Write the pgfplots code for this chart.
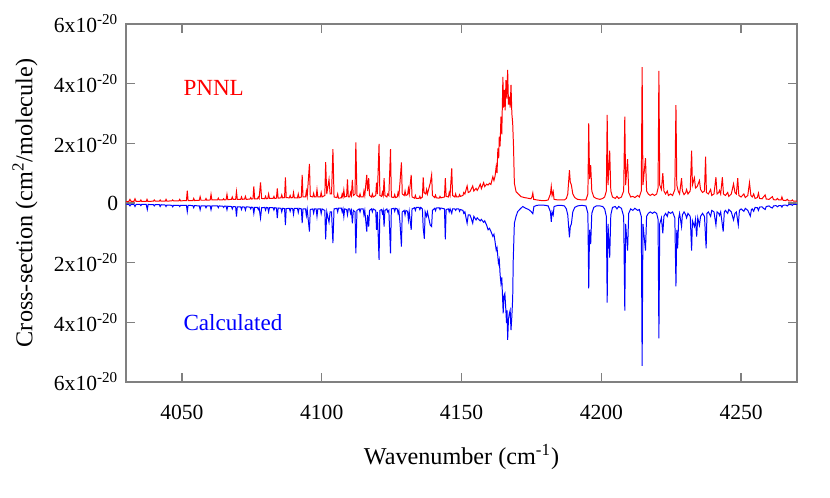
\documentclass[border=0pt]{standalone}
\usepackage{fontspec}
\setmainfont{Liberation Serif}
\usepackage{pgfplots}
\pgfplotsset{compat=1.18}

\begin{document}
\begin{tikzpicture}
\begin{axis}[
  scale only axis,
  width=305pt, height=162.7pt,
  xmin=4030, xmax=4270,
  ymin=-6, ymax=6,
  xtick={4050,4100,4150,4200,4250},
  ytick={-6,-4,-2,0,2,4,6},
  yticklabels={6x10\textsuperscript{-20},4x10\textsuperscript{-20},2x10\textsuperscript{-20},0,
               2x10\textsuperscript{-20},4x10\textsuperscript{-20},6x10\textsuperscript{-20}},
  /pgf/number format/assume math mode=true,
  /pgf/number format/set thousands separator={},
  tick align=inside,
  axis line style={draw=black!50, line width=0.6pt},
  major tick style={draw=black!50, line width=0.6pt},
  tick label style={font=\fontsize{9.8}{11}\selectfont},
  xticklabel style={yshift=-7pt},
  label style={font=\fontsize{11}{13}\selectfont},
  xlabel={Wavenumber (cm\textsuperscript{-1})},
  ylabel={Cross-section (cm\textsuperscript{2}/molecule)},
  xlabel style={at={(axis description cs:0.5,0)}, anchor=center, yshift=-34pt},
  ylabel style={at={(axis description cs:0,0.5)}, anchor=center, yshift=46pt},
]
% PNNL (measured)
\addplot[red, line width=0.45pt] coordinates {
(4030,0.04) (4031.0,0.05) (4031.4,0.12) (4031.8,0.05) (4032.8,0.05) (4033.2,0.14) (4033.6,0.05) (4035.0,0.05) (4035.3,0.1) (4035.6,0.05) (4037.2,0.05) (4037.5,0.12) (4037.8,0.05) (4039.8,0.06) (4040.1,0.1) (4040.4,0.06) (4041.9,0.06) (4042.2,0.1) (4042.5,0.06) (4044.0,0.06) (4044.3,0.12) (4044.6,0.06) (4046.4,0.07) (4046.7,0.1) (4047.0,0.07) (4048.9,0.07) (4049.2,0.12) (4049.5,0.07)
(4051.6,0.08) (4051.9,0.41) (4052.2,0.08) (4053.9,0.08) (4054.2,0.15) (4054.5,0.08) (4056.2,0.09) (4056.5,0.21) (4056.8,0.09) (4058.3,0.09) (4058.6,0.15) (4058.9,0.09) (4060.1,0.1) (4060.4,0.29) (4060.7,0.1) (4062.7,0.1) (4063.0,0.16) (4063.3,0.1) (4064.6,0.1) (4064.9,0.14) (4065.2,0.1) (4065.8,0.11) (4066.1,0.29) (4066.4,0.11) (4067.7,0.12) (4068.0,0.2) (4068.3,0.12) (4069.2,0.12) (4069.5,0.38) (4069.8,0.12) (4071.0,0.12) (4071.3,0.2) (4071.6,0.12) (4072.4,0.13) (4072.7,0.22) (4073.0,0.12) (4074.3,0.13) (4074.6,0.18) (4074.9,0.13) (4075.4,0.14) (4075.7,0.55) (4076.0,0.14) (4077.0,0.14) (4077.3,0.2) (4077.6,0.15) (4078.1,0.69) (4078.5,0.15) (4079.6,0.14) (4079.9,0.22) (4080.2,0.14) (4080.7,0.15) (4081.0,0.3) (4081.3,0.15) (4082.6,0.15) (4082.9,0.22) (4083.2,0.15) (4083.8,0.16) (4084.1,0.49) (4084.4,0.16) (4085.4,0.17) (4085.7,0.27) (4086.0,0.17) (4086.7,0.18) (4087.0,0.86) (4087.3,0.18) (4088.4,0.17) (4088.7,0.25) (4089.0,0.17) (4089.6,0.18) (4089.9,0.35) (4090.2,0.17)
(4091.3,0.17) (4091.6,0.3) (4091.9,0.17) (4092.7,0.2) (4093.0,0.94) (4093.3,0.2) (4094.2,0.2) (4094.5,0.4) (4094.8,0.22) (4095.6,1.31) (4095.9,0.22) (4096.8,0.2) (4097.1,0.32) (4097.4,0.2) (4098.0,0.2) (4098.3,0.45) (4098.6,0.2) (4099.5,0.2) (4099.8,0.35) (4100.1,0.2) (4101.1,0.25) (4101.4,1.37) (4101.8,0.3) (4102.6,0.79) (4103.0,0.3) (4103.5,0.3) (4104.0,1.8) (4104.4,0.2) (4105.4,0.18) (4105.7,0.3) (4106.0,0.16) (4107.0,0.17) (4107.3,0.3) (4107.6,0.2) (4107.9,0.43) (4108.2,0.2) (4108.9,0.22) (4109.2,0.79) (4109.5,0.2) (4110.0,0.2) (4110.3,0.35) (4110.6,0.25) (4110.95,0.77) (4111.3,0.25) (4111.9,0.3) (4112.2,2.03) (4112.6,0.25) (4113.4,0.2) (4113.7,0.3) (4114.0,0.2) (4114.8,0.2) (4115.1,0.4) (4115.4,0.25) (4116.1,0.94) (4116.4,0.4) (4116.8,0.83) (4117.1,0.25) (4117.8,0.2) (4118.1,0.3) (4118.4,0.2) (4119.3,0.25) (4119.6,0.68) (4119.9,0.3) (4120.5,1.98) (4120.8,0.25) (4121.4,0.22) (4121.7,0.35) (4122.0,0.25) (4122.3,0.83) (4122.6,0.25) (4123.3,0.2) (4123.6,0.3) (4124.0,0.25) (4124.6,1.8) (4124.9,0.2) (4125.8,0.18) (4126.1,0.28) (4126.4,0.18) (4127.0,0.2) (4127.3,0.35) (4127.6,0.25) (4128.0,0.7) (4128.5,1.36) (4128.8,0.3) (4129.5,0.25) (4129.8,0.4) (4130.1,0.25) (4130.7,0.28) (4131.0,0.49) (4131.3,0.3) (4132.0,0.94) (4132.3,0.2) (4133.2,0.16) (4133.5,0.25) (4133.8,0.15) (4134.8,0.15) (4135.1,0.22) (4135.4,0.15) (4136.0,0.2) (4136.3,0.86) (4136.6,0.35) (4137.2,0.3) (4137.5,0.45) (4137.8,0.3) (4138.8,0.66) (4139.3,0.94) (4139.6,0.25) (4140.4,0.18) (4140.7,0.26) (4141.0,0.17) (4142.0,0.16) (4142.3,0.22) (4142.6,0.17) (4143.9,0.2) (4144.2,0.83) (4144.5,0.22) (4145.3,0.2) (4145.6,0.35) (4145.9,0.25) (4146.5,1.16) (4146.8,0.25) (4147.6,0.2) (4147.9,0.3) (4148.2,0.2) (4149.0,0.2) (4149.3,0.28) (4149.6,0.22)
(4150.5,0.25) (4150.8,0.35) (4151.2,0.3) (4152.0,0.57) (4152.4,0.35) (4153.0,0.38) (4153.4,0.45) (4154.0,0.57) (4154.4,0.4) (4155.2,0.49) (4155.6,0.42) (4156.1,0.5) (4156.7,0.63) (4157.1,0.48) (4157.9,0.68) (4158.3,0.55) (4159.0,0.63) (4159.5,0.6) (4160.0,0.66) (4160.5,0.62) (4161.2,0.88) (4161.6,0.75) (4162.0,0.9) (4162.4,1.22) (4162.7,1.0) (4163.0,1.83) (4163.3,1.5) (4163.5,2.22) (4163.8,1.9) (4164.1,2.89) (4164.4,2.3) (4164.8,4.23) (4165.0,3.2) (4165.3,3.79) (4165.6,3.1) (4165.9,4.12) (4166.2,3.5) (4166.5,4.46) (4166.8,3.3) (4167.1,3.56) (4167.4,3.2) (4167.7,3.96) (4168.0,3.0) (4168.3,2.67) (4168.6,1.89) (4168.9,0.66) (4169.5,0.38) (4170.3,0.3) (4171.3,0.21) (4172.5,0.18) (4173.7,0.16) (4174.8,0.14) (4175.2,0.2) (4175.5,0.33) (4175.8,0.12) (4177.0,0.1) (4178.5,0.08) (4180.0,0.08) (4181.0,0.1) (4181.8,0.3) (4182.1,0.55) (4182.4,0.25) (4182.8,0.38) (4183.1,0.12) (4184.5,0.1) (4185.7,0.1) (4186.8,0.1) (4187.5,0.15) (4188.0,0.3) (4188.6,1.1) (4188.9,0.7) (4189.3,0.6) (4189.8,0.3) (4190.5,0.18) (4191.5,0.12) (4193.0,0.1) (4194.5,0.1)
(4195.2,0.3) (4195.5,2.67) (4195.8,0.8) (4196.2,1.27) (4196.6,0.4) (4197.3,0.2) (4198.2,0.15) (4199.5,0.12) (4200.5,0.15) (4201.2,0.2) (4201.8,0.4) (4202.1,2.95) (4202.4,0.6) (4203.0,1.75) (4203.4,0.4) (4204.0,0.2) (4205.0,0.15) (4205.6,0.22) (4206.2,0.15) (4207.2,0.2) (4208.0,0.4) (4208.4,2.89) (4208.7,0.6) (4209.4,1.47) (4209.8,0.35) (4210.5,0.2) (4211.3,0.22) (4212.0,0.18) (4213.0,0.25) (4213.6,0.2) (4214.3,0.4) (4214.6,4.55) (4214.9,0.6) (4215.8,1.5) (4216.2,0.4) (4216.8,0.3) (4217.5,0.25) (4218.3,0.3) (4219.0,0.25) (4219.8,0.3) (4220.3,0.5) (4220.6,4.43) (4220.9,0.6) (4221.5,0.45) (4222.0,1.0) (4222.4,0.4) (4223.0,0.3) (4223.6,0.4) (4224.0,0.25) (4224.8,0.3) (4225.5,0.25) (4226.3,0.45) (4226.7,3.28) (4227.0,0.6) (4227.5,0.4) (4228.0,0.3) (4228.7,0.83) (4229.0,0.4) (4229.6,0.28) (4230.2,0.35) (4230.5,0.45) (4231.0,0.3) (4231.8,0.4) (4232.3,1.75) (4232.6,0.6) (4233.3,0.84) (4233.7,0.5) (4234.3,0.55) (4235.1,0.75) (4235.5,0.45) (4236.2,0.35) (4236.9,0.4) (4237.3,1.55) (4237.6,0.35) (4238.3,0.3) (4239.1,0.45) (4239.5,0.25) (4240.3,0.3) (4241.0,0.86) (4241.4,0.3) (4242.0,0.35) (4242.3,0.42) (4242.7,0.3) (4243.3,0.86) (4243.7,0.3) (4244.4,0.25) (4245.2,0.35) (4245.6,0.22) (4246.5,0.3) (4247.3,0.64) (4247.8,0.35) (4248.3,0.3) (4248.8,0.83) (4249.2,0.25) (4250.0,0.2) (4251.0,0.3) (4251.5,0.18) (4252.4,0.25) (4253.0,0.68) (4253.5,0.25) (4254.0,0.2) (4254.5,0.3) (4255.0,0.15) (4255.8,0.18) (4256.2,0.33) (4256.6,0.15) (4257.5,0.14) (4258.0,0.2) (4258.6,0.27) (4259.0,0.13) (4260.0,0.12) (4260.5,0.16) (4261.2,0.21) (4261.6,0.11) (4262.5,0.1) (4263.0,0.15) (4263.5,0.1) (4264.3,0.1) (4264.6,0.2) (4265.0,0.09) (4266.0,0.08) (4266.5,0.12) (4267.0,0.07) (4268.0,0.07) (4268.3,0.1) (4268.7,0.06) (4270,0.06)
};
% Calculated (plotted downwards)
\addplot[blue, line width=0.45pt] coordinates {
(4030,-0.04) (4031.0,-0.05) (4031.4,-0.1) (4031.8,-0.05) (4032.8,-0.05) (4033.2,-0.12) (4033.6,-0.05) (4035.0,-0.05) (4035.3,-0.09) (4035.6,-0.05) (4037.2,-0.05) (4037.6,-0.22) (4037.9,-0.05) (4039.8,-0.06) (4040.1,-0.1) (4040.4,-0.06) (4041.9,-0.06) (4042.2,-0.12) (4042.5,-0.06) (4044.0,-0.07) (4044.3,-0.12) (4044.6,-0.07) (4046.4,-0.08) (4046.7,-0.13) (4047.0,-0.08) (4048.9,-0.08) (4049.2,-0.12) (4049.5,-0.08)
(4051.6,-0.08) (4051.9,-0.29) (4052.2,-0.08) (4053.9,-0.09) (4054.2,-0.16) (4054.5,-0.09) (4056.2,-0.1) (4056.5,-0.23) (4056.8,-0.1) (4058.3,-0.1) (4058.6,-0.16) (4058.9,-0.1) (4060.1,-0.1) (4060.4,-0.23) (4060.7,-0.1) (4062.7,-0.1) (4063.0,-0.16) (4063.3,-0.1) (4064.6,-0.11) (4064.9,-0.15) (4065.2,-0.11) (4065.8,-0.11) (4066.1,-0.23) (4066.4,-0.11) (4067.7,-0.12) (4068.0,-0.2) (4068.3,-0.12) (4069.2,-0.13) (4069.5,-0.46) (4069.8,-0.13) (4071.0,-0.13) (4071.3,-0.22) (4071.6,-0.13) (4072.4,-0.14) (4072.7,-0.24) (4073.0,-0.13) (4074.3,-0.14) (4074.6,-0.2) (4074.9,-0.14) (4075.4,-0.15) (4075.7,-0.35) (4076.0,-0.15) (4077.0,-0.15) (4077.3,-0.22) (4077.6,-0.16) (4078.1,-0.51) (4078.5,-0.16) (4079.6,-0.15) (4079.9,-0.24) (4080.2,-0.15) (4080.7,-0.16) (4081.0,-0.3) (4081.3,-0.16) (4082.6,-0.16) (4082.9,-0.24) (4083.2,-0.16) (4083.8,-0.17) (4084.1,-0.51) (4084.4,-0.17) (4085.4,-0.18) (4085.7,-0.3) (4086.0,-0.18) (4086.7,-0.19) (4087.0,-0.74) (4087.3,-0.19) (4088.4,-0.18) (4088.7,-0.28) (4089.0,-0.18) (4089.6,-0.19) (4089.9,-0.38) (4090.2,-0.18)
(4091.3,-0.18) (4091.6,-0.32) (4091.9,-0.18) (4092.7,-0.2) (4093.0,-0.68) (4093.3,-0.2) (4094.2,-0.2) (4094.5,-0.42) (4094.8,-0.22) (4095.6,-0.96) (4095.9,-0.22) (4096.8,-0.2) (4097.1,-0.34) (4097.4,-0.2) (4098.0,-0.2) (4098.3,-0.45) (4098.6,-0.2) (4099.5,-0.2) (4099.8,-0.36) (4100.1,-0.2) (4101.1,-0.25) (4101.4,-1.22) (4101.8,-0.3) (4102.6,-0.65) (4103.0,-0.3) (4103.5,-0.3) (4104.0,-1.35) (4104.4,-0.2) (4105.4,-0.18) (4105.7,-0.3) (4106.0,-0.17) (4107.0,-0.17) (4107.3,-0.3) (4107.6,-0.2) (4107.9,-0.46) (4108.2,-0.2) (4108.9,-0.22) (4109.2,-0.4) (4109.5,-0.2) (4110.0,-0.2) (4110.3,-0.35) (4110.6,-0.25) (4110.95,-0.68) (4111.3,-0.25) (4111.9,-0.3) (4112.2,-1.69) (4112.6,-0.25) (4113.4,-0.2) (4113.7,-0.3) (4114.0,-0.2) (4114.8,-0.2) (4115.1,-0.4) (4115.4,-0.25) (4116.1,-0.96) (4116.4,-0.4) (4116.8,-0.79) (4117.1,-0.25) (4117.8,-0.2) (4118.1,-0.3) (4118.4,-0.2) (4119.3,-0.25) (4119.6,-0.9) (4119.9,-0.3) (4120.5,-1.91) (4120.8,-0.25) (4121.4,-0.22) (4121.7,-0.35) (4122.0,-0.25) (4122.3,-0.79) (4122.6,-0.25) (4123.3,-0.2) (4123.6,-0.3) (4124.0,-0.25) (4124.6,-1.69) (4124.9,-0.2) (4125.8,-0.18) (4126.1,-0.28) (4126.4,-0.18) (4127.0,-0.2) (4127.3,-0.35) (4127.6,-0.25) (4128.0,-0.68) (4128.5,-1.46) (4128.8,-0.3) (4129.5,-0.25) (4129.8,-0.4) (4130.1,-0.25) (4130.7,-0.28) (4131.0,-0.57) (4131.3,-0.3) (4132.0,-0.9) (4132.3,-0.2) (4133.2,-0.16) (4133.5,-0.25) (4133.8,-0.15) (4134.8,-0.15) (4135.1,-0.22) (4135.4,-0.15) (4136.0,-0.2) (4136.3,-0.85) (4136.7,-1.2) (4137.0,-0.3) (4137.5,-0.45) (4137.8,-0.3) (4138.8,-0.74) (4139.3,-0.79) (4139.6,-0.25) (4140.4,-0.18) (4140.7,-0.26) (4141.0,-0.17) (4142.0,-0.16) (4142.3,-0.22) (4142.6,-0.17) (4143.9,-0.2) (4144.2,-1.22) (4144.5,-0.22) (4145.3,-0.2) (4145.6,-0.3) (4145.9,-0.2) (4146.5,-0.35) (4146.8,-0.2) (4147.6,-0.2) (4147.9,-0.25) (4148.2,-0.2) (4149.0,-0.2) (4149.3,-0.28) (4149.6,-0.22)
(4150.5,-0.25) (4150.8,-0.35) (4151.2,-0.3) (4152.0,-0.68) (4152.4,-0.4) (4153.0,-0.4) (4153.4,-0.5) (4154.0,-0.68) (4154.4,-0.45) (4155.2,-0.57) (4155.6,-0.5) (4156.1,-0.55) (4156.7,-0.6) (4157.1,-0.55) (4157.9,-0.65) (4158.3,-0.6) (4159.0,-0.75) (4159.5,-0.9) (4160.0,-0.85) (4160.5,-0.95) (4161.2,-1.12) (4161.6,-1.05) (4162.0,-1.3) (4162.4,-1.58) (4162.7,-1.5) (4163.2,-2.02) (4163.5,-1.9) (4163.8,-2.4) (4164.1,-2.69) (4164.4,-2.5) (4164.9,-3.7) (4165.2,-3.1) (4165.5,-3.03) (4165.8,-3.5) (4166.1,-4.03) (4166.3,-3.6) (4166.5,-4.59) (4166.8,-3.9) (4167.1,-3.7) (4167.4,-3.6) (4167.7,-4.26) (4168.0,-3.8) (4168.3,-3.2) (4168.5,-1.91) (4168.9,-0.68) (4169.5,-0.45) (4170.1,-0.29) (4171.0,-0.2) (4171.9,-0.12) (4173.0,-0.18) (4174.0,-0.22) (4174.9,-0.29) (4175.5,-0.36) (4175.9,-0.12) (4177.0,-0.08) (4178.5,-0.07) (4180.0,-0.08) (4181.0,-0.1) (4181.8,-0.3) (4182.1,-0.63) (4182.4,-0.3) (4182.8,-0.4) (4183.1,-0.12) (4184.5,-0.08) (4185.7,-0.08) (4186.8,-0.1) (4187.5,-0.2) (4188.0,-0.4) (4188.6,-1.15) (4188.9,-0.8) (4189.3,-0.7) (4189.8,-0.3) (4190.5,-0.15) (4191.5,-0.1) (4193.0,-0.08) (4194.5,-0.1)
(4195.2,-0.35) (4195.5,-2.86) (4195.8,-0.9) (4196.2,-1.38) (4196.6,-0.35) (4197.3,-0.15) (4198.2,-0.1) (4199.5,-0.1) (4200.5,-0.12) (4201.2,-0.2) (4201.8,-0.45) (4202.1,-3.34) (4202.4,-0.7) (4203.0,-1.83) (4203.4,-0.4) (4204.0,-0.15) (4205.0,-0.12) (4205.6,-0.2) (4206.2,-0.12) (4207.2,-0.18) (4208.0,-0.45) (4208.4,-3.61) (4208.7,-0.7) (4209.4,-1.6) (4209.8,-0.35) (4210.5,-0.2) (4211.3,-0.25) (4212.0,-0.18) (4213.0,-0.25) (4213.6,-0.22) (4214.3,-0.45) (4214.6,-5.46) (4214.9,-0.7) (4215.8,-1.6) (4216.2,-0.45) (4216.8,-0.35) (4217.5,-0.3) (4218.3,-0.35) (4219.0,-0.3) (4219.8,-0.35) (4220.3,-0.55) (4220.6,-4.54) (4220.9,-0.7) (4221.5,-0.5) (4222.0,-1.02) (4222.4,-0.45) (4223.0,-0.35) (4223.6,-0.45) (4224.0,-0.3) (4224.8,-0.35) (4225.5,-0.3) (4226.3,-0.5) (4226.7,-2.8) (4227.0,-0.9) (4227.3,-1.52) (4227.7,-0.5) (4228.0,-0.35) (4228.7,-0.79) (4229.0,-0.4) (4229.6,-0.3) (4230.2,-0.4) (4230.5,-0.5) (4231.0,-0.35) (4231.8,-0.45) (4232.3,-1.6) (4232.6,-0.6) (4233.3,-0.79) (4233.7,-0.55) (4234.1,-1.13) (4234.5,-0.5) (4235.1,-0.75) (4235.5,-0.45) (4236.2,-0.35) (4236.9,-0.45) (4237.5,-1.52) (4237.8,-0.35) (4238.3,-0.3) (4239.1,-0.45) (4239.5,-0.25) (4240.3,-0.3) (4241.0,-0.74) (4241.4,-0.3) (4242.0,-0.35) (4242.3,-0.42) (4242.7,-0.3) (4243.6,-0.96) (4244.0,-0.3) (4244.4,-0.25) (4245.2,-0.35) (4245.6,-0.22) (4246.5,-0.3) (4247.3,-0.57) (4247.8,-0.35) (4248.3,-0.3) (4249.0,-0.74) (4249.4,-0.25) (4250.0,-0.2) (4251.0,-0.28) (4251.5,-0.18) (4252.4,-0.25) (4253.3,-0.44) (4253.7,-0.22) (4254.0,-0.2) (4254.5,-0.28) (4255.0,-0.15) (4255.8,-0.16) (4256.2,-0.25) (4256.6,-0.14) (4257.5,-0.13) (4258.0,-0.18) (4258.6,-0.22) (4259.0,-0.12) (4260.0,-0.1) (4260.5,-0.14) (4261.2,-0.17) (4261.6,-0.1) (4262.5,-0.09) (4263.0,-0.13) (4263.5,-0.09) (4264.3,-0.09) (4264.6,-0.14) (4265.0,-0.08) (4266.0,-0.07) (4266.5,-0.1) (4267.0,-0.06) (4268.0,-0.06) (4268.3,-0.08) (4268.7,-0.05) (4270,-0.05)
};
\node[red, anchor=west, inner sep=0pt, font=\fontsize{10.5}{12}\selectfont] at (axis cs:4050.4,3.85) {PNNL};
\node[blue, anchor=west, inner sep=0pt, font=\fontsize{10.5}{12}\selectfont] at (axis cs:4050.4,-4.02) {Calculated};
\end{axis}
\pgfresetboundingbox
\path[use as bounding box] ([shift={(-57.3pt,-52.7pt)}]current axis.south west) rectangle ([shift={(15pt,10.9pt)}]current axis.north east);
\end{tikzpicture}
\end{document}
